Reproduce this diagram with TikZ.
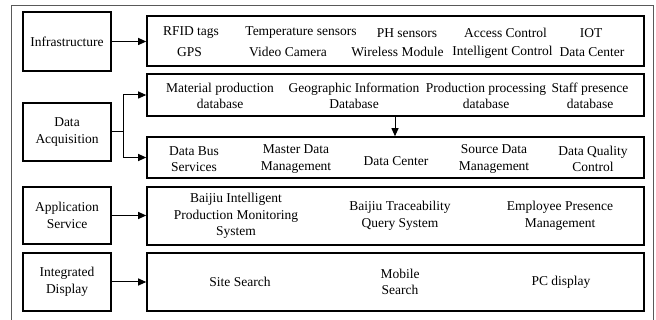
\documentclass[tikz,border=0pt]{standalone}
\usepackage{fontspec}
\setmainfont{Liberation Serif}
\usetikzlibrary{arrows.meta,calc,shadows}
\definecolor{shadowblue}{RGB}{205,220,240}
\begin{document}
\begin{tikzpicture}[x=1pt,y=-1pt,
  every node/.style={font=\fontsize{13.5}{16.5}\selectfont, inner sep=0pt, align=center},
  box/.style={draw=black, line width=1.6pt, fill=white, rectangle,
    drop shadow={shadow xshift=1pt, shadow yshift=-1.5pt, fill=shadowblue, opacity=1}},
  lbox/.style={box, minimum width=88pt},
  rbox/.style={box, minimum width=497pt},
  arr/.style={line width=1pt, -{Triangle[length=8pt,width=7pt]}},
  ln/.style={line width=1pt}]
\useasboundingbox (0,0) rectangle (656,320);
\fill[white] (0,0) rectangle (656,320);
\draw[gray!70!black, line width=0.8pt] (11,320) |- (653,5) -- (653,320);

% left boxes
\node[lbox, minimum height=59pt] (infra) at (67,41.5) {Infrastructure};
\node[lbox, minimum height=58pt] (da) at (67,132) {Data\\Acquisition};
\node[lbox, minimum height=57pt] (app) at (67,215.5) {Application\\Service};
\node[lbox, minimum height=58pt] (disp) at (67,282) {Integrated\\Display};

% right boxes
\node[rbox, minimum height=50pt] (infraR) at (395.5,41) {};
\node[rbox, minimum height=42pt] (mat) at (395.5,95) {};
\node[rbox, minimum height=41pt] (bus) at (395.5,157.5) {};
\node[rbox, minimum height=58pt] (appR) at (395.5,216) {};
\node[rbox, minimum height=58pt] (dispR) at (395.5,282) {};

% infrastructure texts
\node (t11) at (191,33) {RFID tags};
\node (t12) at (301,33) {Temperature sensors};
\node (t13) at (407,33) {PH sensors};
\node (t14) at (505.5,33) {Access Control};
\node (t15) at (591,33) {IOT};
\node (t21) at (189.5,52) {GPS};
\node (t22) at (288,52) {Video Camera};
\node (t23) at (397.5,52) {Wireless Module};
\node (t24) at (502.5,52) {Intelligent Control};
\node (t25) at (592,52) {Data Center};

% database texts
\node (m1) at (220,96) {Material production\\database};
\node (m2) at (354,96) {Geographic Information\\Database};
\node (m3) at (486,96) {Production processing\\database};
\node (m4) at (590,96) {Staff presence\\database};

% data bus texts
\node (b1) at (194,159) {Data Bus\\Services};
\node (b2) at (296,159) {Master Data\\Management};
\node (b3) at (396,161) {Data Center};
\node (b4) at (494,159) {Source Data\\Management};
\node (b5) at (593,159) {Data Quality\\Control};

% application texts
\node (a1) at (236,216) {Baijiu Intelligent\\Production Monitoring\\System};
\node (a2) at (400,216) {Baijiu Traceability\\Query System};
\node (a3) at (560,216) {Employee Presence\\Management};

% display texts
\node (d1) at (240,282) {Site Search};
\node (d2) at (400,282) {Mobile\\Search};
\node (d3) at (561,282) {PC display};

% connectors
\draw[arr] (infra.east) -- (infra.east -| infraR.west);
\coordinate (br) at (123,132);
\draw[ln] (da.east) -- (br);
\draw[arr] (br) |- (mat.west);
\draw[arr] (br) |- (bus.west);
\coordinate (dtop) at (395,116);
\draw[arr] (dtop) -- (dtop |- bus.north);
\draw[arr] (app.east) -- (app.east -| appR.west);
\draw[arr] (disp.east) -- (disp.east -| dispR.west);
\end{tikzpicture}
\end{document}
